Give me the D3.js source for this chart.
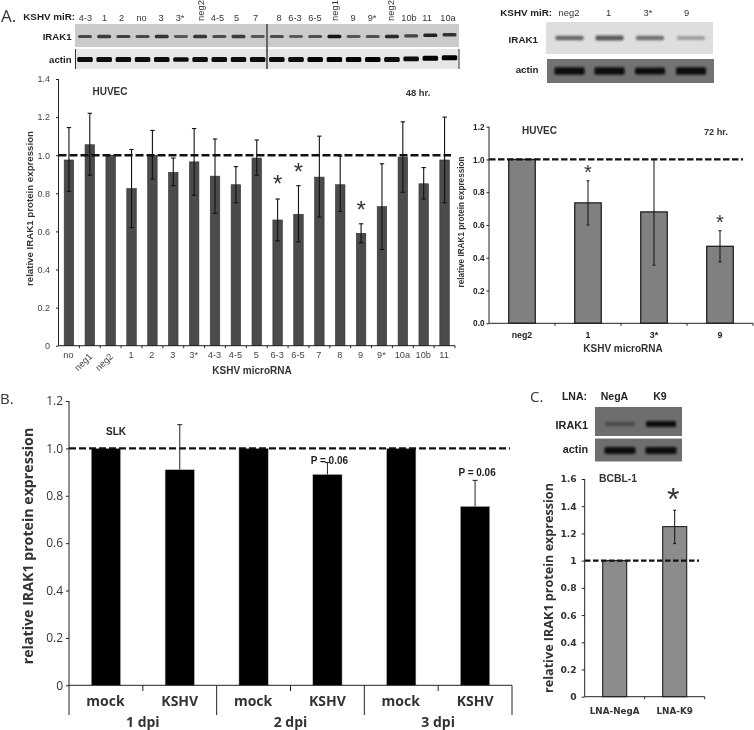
<!DOCTYPE html>
<html><head><meta charset="utf-8">
<script src="https://cdn.jsdelivr.net/npm/d3@7/dist/d3.min.js"></script>
<style>html,body{margin:0;padding:0;background:#fff}svg{display:block;filter:blur(0.3px)}text{font-family:"Liberation Sans",Arial,sans-serif}</style>
</head><body><div id="c"></div>
<script>
// Panel A, 48 hr
const a48Categories=["no","neg1","neg2","1","2","3","3*","4-3","4-5","5","6-3","6-5","7","8","9","9*","10a","10b","11"];
const a48Values=[0.975,1.055,1.0,0.825,1.0,0.91,0.965,0.89,0.845,0.985,0.66,0.69,0.885,0.845,0.59,0.73,0.99,0.85,0.975];
const a48Low=[0.81,0.895,null,0.62,0.875,0.84,0.79,0.695,0.75,0.895,0.55,0.545,0.675,0.705,0.54,0.505,0.805,0.77,0.75];
const a48High=[1.145,1.22,null,1.03,1.13,0.985,1.14,1.085,0.94,1.08,0.77,0.84,1.1,0.995,0.64,0.955,1.175,0.935,1.2];
const a48Stars=["6-3","6-5","9"];
const a48StarLevels=[0.855,0.915,0.72];
const a48Ticks=[0,0.2,0.4,0.6,0.8,1.0,1.2,1.4];
// Panel A, 72 hr
const a72Categories=["neg2","1","3*","9"];
const a72Values=[1.0,0.735,0.68,0.47];
const a72Low=[null,0.6,0.355,0.375];
const a72High=[null,0.87,1.0,0.565];
const a72Stars=["1","9"];
const a72StarLevels=[0.93,0.625];
const a72Ticks=[0,0.2,0.4,0.6,0.8,1.0,1.2];
// Panel B, SLK
const bCategories=["1m","1k","2m","2k","3m","3k"];
const bLabels=["mock","KSHV","mock","KSHV","mock","KSHV"];
const bGroups=["1 dpi","2 dpi","3 dpi"];
const bValues=[1.0,0.91,1.0,0.89,1.0,0.755];
const bHigh=[null,1.10,null,0.94,null,0.865];
const bTicks=[0,0.2,0.4,0.6,0.8,1.0,1.2];
const bNotes=[["2k",0.945,"P = 0.06"],["3k",0.895,"P = 0.06"]];
// Panel C, BCBL-1
const cCategories=["LNA-NegA","LNA-K9"];
const cValues=[1.0,1.25];
const cLow=[null,1.125];
const cHigh=[null,1.37];
const cTicks=[0,0.2,0.4,0.6,0.8,1,1.2,1.4,1.6];
// Blot lanes
const blotALanes=["4-3","1","2","no","3","3*","neg2","4-5","5","7","8","6-3","6-5","neg1","9","9*","neg2","10b","11","10a"];
const blotAIrak=[0.55,0.65,0.62,0.55,0.72,0.42,0.7,0.52,0.65,0.42,0.52,0.4,0.48,0.95,0.42,0.48,0.8,0.58,0.88,0.72];
const blotAActin=[0.95,0.95,0.95,0.92,0.95,0.85,0.92,0.92,0.9,0.95,0.95,0.95,0.98,1,1,0.98,0.95,0.95,0.97,1];
const blotBLanes=["neg2","1","3*","9"];
const blotBIrak=[0.62,0.72,0.55,0.22];
const blotBActin=[1,1,0.8,0.95];
const blotCLanes=["NegA","K9"];
const blotCIrak=[0.15,1];
const blotCActin=[1,1];

const W=754,H=730;
const svg=d3.select("#c").append("svg").attr("width",W).attr("height",H);
const defs=svg.append("defs");
[["b1",1],["b2",1.3],["b3",0.65]].forEach(([id,s])=>{
  defs.append("filter").attr("id",id).attr("x","-30%").attr("y","-100%").attr("width","160%").attr("height","300%")
    .append("feGaussianBlur").attr("stdDeviation",s);
});

function txt(x,y,s,o={}){
  const t=svg.append("text").attr("x",x).attr("y",y).text(s)
    .attr("font-size",o.size||9).attr("fill",o.fill||"#222")
    .attr("font-weight",o.bold?"bold":"normal")
    .attr("text-anchor",o.anchor||"middle");
  if(o.family) t.style("font-family",o.family);
  if(o.rotate!=null) t.attr("transform",`rotate(${o.rotate} ${x} ${y})`);
  return t;
}

function barChart(o){
  const x=d3.scaleBand().domain(o.cats).range(o.xr).paddingInner(o.pad).paddingOuter(o.pad/2);
  const y=d3.scaleLinear().domain([0,o.top]).range(o.yr);
  const g=svg.append("g");
  const barW=o.barW, cx=c=>x(c)+x.bandwidth()/2;
  g.selectAll("rect.bar").data(o.cats).join("rect").attr("class","bar")
    .attr("x",c=>cx(c)-barW/2).attr("width",barW)
    .attr("y",(c,i)=>y(o.vals[i])).attr("height",(c,i)=>y(0)-y(o.vals[i]))
    .attr("fill",o.fill).attr("stroke",o.stroke).attr("stroke-width",o.sw);
  g.append("line").attr("x1",o.dash[0]).attr("x2",o.dash[1]).attr("y1",y(1)).attr("y2",y(1))
    .attr("stroke","#111").attr("stroke-width",o.dashW).attr("stroke-dasharray",o.dashArr);
  o.cats.forEach((c,i)=>{
    const hi=o.high?o.high[i]:null; if(hi==null) return;
    const lo=o.low?o.low[i]:null, X=cx(c), ew=o.cap;
    const y0=lo==null?y(o.vals[i]):y(lo);
    g.append("line").attr("x1",X).attr("x2",X).attr("y1",y0).attr("y2",y(hi)).attr("stroke",o.err).attr("stroke-width",o.errW);
    g.append("line").attr("x1",X-ew).attr("x2",X+ew).attr("y1",y(hi)).attr("y2",y(hi)).attr("stroke",o.err).attr("stroke-width",o.errW);
    if(lo!=null) g.append("line").attr("x1",X-ew).attr("x2",X+ew).attr("y1",y(lo)).attr("y2",y(lo)).attr("stroke",o.err).attr("stroke-width",o.errW);
  });
  const ya=g.append("g").attr("transform",`translate(${o.xr[0]},0)`)
    .call(d3.axisLeft(y).tickValues(o.ticks).tickSize(o.tick).tickPadding(o.tickPad).tickFormat(o.fmt));
  ya.selectAll("path,line").attr("stroke",o.axis).attr("stroke-width",o.axisW);
  ya.selectAll("text").attr("font-size",o.tickSize).attr("fill",o.tickFill)
    .attr("font-weight",o.tickBold?"bold":"normal").style("font-family",o.tickFamily||"inherit");
  ya.select("path").attr("d",`M0,${o.yr[1]}H0V${o.yr[0]}`);
  g.append("line").attr("x1",o.xr[0]).attr("x2",o.xr[1]).attr("y1",y(0)).attr("y2",y(0)).attr("stroke",o.axis).attr("stroke-width",o.axisW);
  if(o.xTick){
    g.selectAll("line.xt").data(o.cats).join("line").attr("class","xt")
      .attr("x1",c=>x(c)+x.bandwidth()+x.step()*o.pad/2).attr("x2",c=>x(c)+x.bandwidth()+x.step()*o.pad/2)
      .attr("y1",y(0)).attr("y2",y(0)+o.xTick).attr("stroke",o.axis).attr("stroke-width",o.axisW);
  }
  return {x,y,cx};
}

const letterFont='"Open Sans",sans-serif';
txt(1,22,"A.",{size:17,anchor:"start",fill:"#333",family:letterFont});
txt(0,404,"B.",{size:15,anchor:"start",fill:"#333",family:letterFont});
txt(530,402,"C.",{size:15,anchor:"start",fill:"#333",family:letterFont});

function blot(rect,bg,lanes,vals,cxf,o){
  svg.append("rect").attr("x",rect[0]).attr("y",rect[1]).attr("width",rect[2]).attr("height",rect[3]).attr("fill",bg);
  svg.append("g").attr("filter",`url(#${o.blur})`).selectAll("rect").data(lanes).join("rect")
    .attr("x",(d,i)=>cxf(i)-o.w/2).attr("width",o.w)
    .attr("y",(d,i)=>rect[1]+o.yc+(o.tilt?o.tilt(i):0)-(o.h*(0.6+0.4*vals[i]))/2).attr("height",(d,i)=>o.h*(0.6+0.4*vals[i]))
    .attr("rx",1.5)
    .attr("fill",(d,i)=>d3.interpolateRgb(o.light,o.dark)(vals[i]));
}

// Blot A
const blotAX=d3.scalePoint().domain(d3.range(blotALanes.length)).range([85,449.5]);
const tiltA=i=>i>=17?(i-16)*-0.6:0;
blot([75,24,384,23],"#cbcbcb",blotALanes,blotAIrak,i=>blotAX(i),{w:14,h:3.8,yc:12.5,light:"#8a8a8a",dark:"#111",blur:"b3",tilt:tiltA});
blot([75,49,384,20],"#e6e6e6",blotALanes,blotAActin,i=>blotAX(i),{w:15.5,h:5,yc:10.5,light:"#333",dark:"#050505",blur:"b3",tilt:tiltA});
[[267,24,69,2,"#666"],[75.5,49,69,1,"#333"],[459,49,69,1,"#333"]].forEach(d=>{
  svg.append("line").attr("x1",d[0]).attr("x2",d[0]).attr("y1",d[1]).attr("y2",d[2]).attr("stroke",d[4]).attr("stroke-width",d[3]);
});
txt(75,20,"KSHV miR:",{size:9.8,bold:true,anchor:"end"});
txt(71.5,40,"IRAK1",{size:9.6,bold:true,anchor:"end"});
txt(71.5,63,"actin",{size:9.6,bold:true,anchor:"end"});
const laneLabelX=[85.5,104.5,121.5,141.5,161,180,199,217.5,236.5,255.5,279,295,315,333,353,372,389,409,427,448];
blotALanes.forEach((d,i)=>{
  const lx=laneLabelX[i];
  if(d.startsWith("neg")) txt(lx+4.5,21,d,{size:9.4,rotate:-90,anchor:"start",fill:"#333"});
  else txt(lx,20.5,d,{size:9.2,fill:"#333"});
});

// Blot B (72 hr)
const bIrakCx=[569.5,609.5,650,691];
blot([546,22,167,32],"#dedede",blotBLanes,blotBIrak,i=>bIrakCx[i],{w:28,h:5.5,yc:16,light:"#bbb",dark:"#333",blur:"b1"});
blot([547,59,167,24],"#727272",blotBLanes,blotBActin,i=>bIrakCx[i],{w:30,h:7.5,yc:12,light:"#222",dark:"#0c0c0c",blur:"b2"});
txt(552,16,"KSHV miR:",{size:9.8,bold:true,anchor:"end"});
txt(538,43,"IRAK1",{size:9.8,bold:true,anchor:"end"});
txt(538.5,73,"actin",{size:9.8,bold:true,anchor:"end"});
[569,608.5,648,686.5].forEach((lx,i)=>txt(lx,16,blotBLanes[i],{size:9.4,fill:"#333"}));

// Blot C
const cLaneCx=[620,661];
blot([595,407,87,29],"#6e6e6e",blotCLanes,blotCIrak,i=>cLaneCx[i],{w:30,h:6,yc:17,light:"#555",dark:"#0a0a0a",blur:"b2"});
blot([595,438.5,87,23],"#6e6e6e",blotCLanes,blotCActin,i=>cLaneCx[i],{w:31,h:7,yc:12,light:"#222",dark:"#0a0a0a",blur:"b2"});
txt(587,400,"LNA:",{size:10.5,bold:true,anchor:"end"});
txt(614.5,400,"NegA",{size:10.5,bold:true});
txt(660,400,"K9",{size:10.5,bold:true});
txt(588,429,"IRAK1",{size:10.8,bold:true,anchor:"end"});
txt(588,453,"actin",{size:10.8,bold:true,anchor:"end"});

// Panel A 48
const a=barChart({cats:a48Categories,vals:a48Values,low:a48Low,high:a48High,top:1.4,xr:[58.5,455],yr:[345.7,79],
  pad:0.54,barW:9.5,fill:"#4b4b4b",stroke:"#333",sw:0.6,err:"#111",errW:1.1,cap:2.2,
  ticks:a48Ticks,fmt:d=>d===0?"0":d3.format(".1f")(d),tick:2.5,tickPad:6,tickSize:9,tickFill:"#444",
  axis:"#222",axisW:1,xTick:2.5,dash:[58.5,451],dashW:2.6,dashArr:"8,3"});
a48Categories.forEach(c=>{
  const X=a.cx(c);
  if(c==="neg1"||c==="neg2") txt(X+3,357,c,{size:9.2,rotate:-45,anchor:"end",fill:"#444"});
  else txt(X-0.5,357.5,c,{size:9.2,fill:"#444"});
});
txt(252,374,"KSHV microRNA",{size:10,bold:true,fill:"#333"});
txt(110,95,"HUVEC",{size:10,bold:true,fill:"#333"});
txt(418,96,"48 hr.",{size:9.4,bold:true,fill:"#333"});
txt(33,208.5,"relative IRAK1 protein expression",{size:9.7,bold:true,rotate:-90,fill:"#333"});
a48Stars.forEach((c,i)=>txt(a.cx(c),a.y(a48StarLevels[i])+9,"*",{size:24,fill:"#333"}));

// Panel A 72
const b=barChart({cats:a72Categories,vals:a72Values,low:a72Low,high:a72High,top:1.2,xr:[489,753],yr:[323.3,126.7],
  pad:0.6,barW:26.5,fill:"#808080",stroke:"#222",sw:1.3,err:"#111",errW:1,cap:1.5,
  ticks:a72Ticks,fmt:d3.format(".1f"),tick:2.5,tickPad:2,tickSize:8.2,tickBold:true,tickFill:"#222",
  axis:"#222",axisW:1,xTick:2.5,dash:[489,743],dashW:2.2,dashArr:"6.5,2.5"});
a72Categories.forEach(c=>txt(b.cx(c),338,c,{size:8.8,bold:true,fill:"#222"}));
txt(623,352,"KSHV microRNA",{size:10,bold:true,fill:"#333"});
txt(539.5,134,"HUVEC",{size:10,bold:true,fill:"#333"});
txt(716,135,"72 hr.",{size:9.2,bold:true,fill:"#333"});
txt(463.5,222,"relative IRAK1 protein expression",{size:8.2,bold:true,rotate:-90,fill:"#333"});
a72Stars.forEach((c,i)=>txt(b.cx(c),b.y(a72StarLevels[i])+8,"*",{size:20,fill:"#333"}));

// Panel B
const c=barChart({cats:bCategories,vals:bValues,high:bHigh,top:1.2,xr:[69,512],yr:[685.3,401],
  pad:0.6,barW:29.3,fill:"#000",stroke:"#bbb",sw:0.5,err:"#222",errW:1,cap:2.5,
  ticks:bTicks,fmt:d=>d===0?"0":d3.format(".1f")(d),tick:3,tickPad:3,tickSize:12,tickFill:"#333",
  tickFamily:'"Open Sans",sans-serif',axis:"#222",axisW:1,xTick:0,dash:[69,510],dashW:2.3,dashArr:"7,3"});
const stepB=c.x.step();
bCategories.forEach((k,i)=>{
  const xe=c.x(k)+c.x.bandwidth()+stepB*0.3, long=(i%2===1);
  svg.append("line").attr("x1",xe).attr("x2",xe).attr("y1",c.y(0)).attr("y2",long?715:691).attr("stroke","#222").attr("stroke-width",1);
  txt(c.cx(k)+(i%2?0:-0.5),706,bLabels[i],{size:14,bold:true,fill:"#333",family:'"Open Sans",sans-serif'});
});
svg.append("line").attr("x1",69).attr("x2",69).attr("y1",685).attr("y2",715).attr("stroke","#222");
bGroups.forEach((d,i)=>txt(c.cx(bCategories[2*i])+stepB/2,727,d,{size:14,bold:true,fill:"#333",family:'"Open Sans",sans-serif'}));
txt(116,435,"SLK",{size:10,bold:true,fill:"#222"});
bNotes.forEach(n=>txt(c.cx(n[0])+2,c.y(n[1])+3,n[2],{size:10,bold:true,fill:"#222"}));
txt(33,546,"relative IRAK1 protein expression",{size:14.2,bold:true,rotate:-90,fill:"#333",family:'"Open Sans",sans-serif'});

// Panel C
const e=barChart({cats:cCategories,vals:cValues,low:cLow,high:cHigh,top:1.6,xr:[584.7,704.7],yr:[696.7,479],
  pad:0.6,barW:24,fill:"#8c8c8c",stroke:"#222",sw:1.1,err:"#111",errW:1,cap:1.5,
  ticks:cTicks,fmt:d=>(d===0||d===1)?String(d):d3.format(".1f")(d),tick:3,tickPad:5,tickSize:9.2,tickBold:true,tickFill:"#333",
  tickFamily:'"DejaVu Sans",sans-serif',axis:"#222",axisW:1,xTick:2.5,dash:[585,699],dashW:2.3,dashArr:"5.5,2.5"});
cCategories.forEach(k=>txt(e.cx(k),714,k,{size:8.8,bold:true,fill:"#333",family:'"DejaVu Sans",sans-serif'}));
txt(618,482,"BCBL-1",{size:10.4,bold:true,fill:"#333"});
txt(553,588,"relative IRAK1 protein expression",{size:12.6,bold:true,rotate:-90,fill:"#333",family:'"Open Sans",sans-serif'});
txt(e.cx("LNA-K9")-1.5,e.y(1.5)+17,"*",{size:32,fill:"#333"});
</script></body></html>
